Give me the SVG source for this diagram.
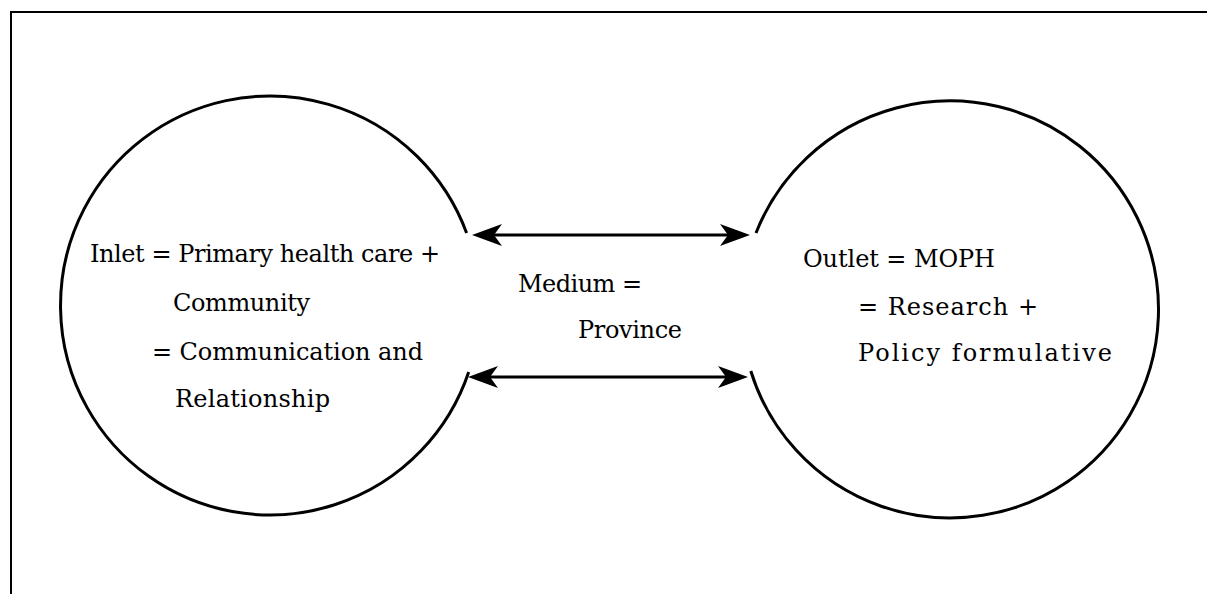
<svg xmlns="http://www.w3.org/2000/svg" width="1207" height="594" viewBox="0 0 1207 594">
  <style>
    .frame { fill: none; stroke: #000; stroke-width: 2; }
    .circ { fill: none; stroke: #000; stroke-width: 3; }
    .conn { fill: none; stroke: #000; stroke-width: 3; marker-start: url(#head); marker-end: url(#head); }
    .lbl { font-family: "DejaVu Serif", "Liberation Serif", serif; font-size: 24px; fill: #000; }
  </style>
  <defs>
    <marker id="head" viewBox="0 0 30 22" refX="22" refY="11" markerWidth="30" markerHeight="22" markerUnits="userSpaceOnUse" orient="auto-start-reverse">
      <path d="M0,0 L30,11 L0,22 L8,11 Z" fill="#000"/>
    </marker>
  </defs>
  <rect width="1207" height="594" fill="#fff"/>
  <path class="frame" d="M11,594 L11,12 L1207,12"/>

  <g id="inlet">
    <path class="circ" d="M466.6,233 A209.5,209.5 0 1 0 468.7,372"/>
    <text class="lbl" x="90" y="262" textLength="350">Inlet = Primary health care +</text>
    <text class="lbl" x="173" y="311" textLength="137">Community</text>
    <text class="lbl" x="152" y="360" textLength="271">= Communication and</text>
    <text class="lbl" x="175" y="407" textLength="155">Relationship</text>
  </g>

  <g id="outlet">
    <path class="circ" d="M756,233 A208.5,208.5 0 1 1 750.8,371"/>
    <text class="lbl" x="803" y="267" textLength="192">Outlet = MOPH</text>
    <text class="lbl" x="858" y="315" textLength="180">= Research +</text>
    <text class="lbl" x="858" y="361" textLength="254">Policy formulative</text>
  </g>

  <g id="medium">
    <text class="lbl" x="518" y="292" textLength="124">Medium =</text>
    <text class="lbl" x="578" y="338" textLength="104">Province</text>
  </g>

  <g id="connectors">
    <line class="conn" x1="480" y1="235" x2="742" y2="235"/>
    <line class="conn" x1="476" y1="377" x2="740" y2="377"/>
  </g>
</svg>
